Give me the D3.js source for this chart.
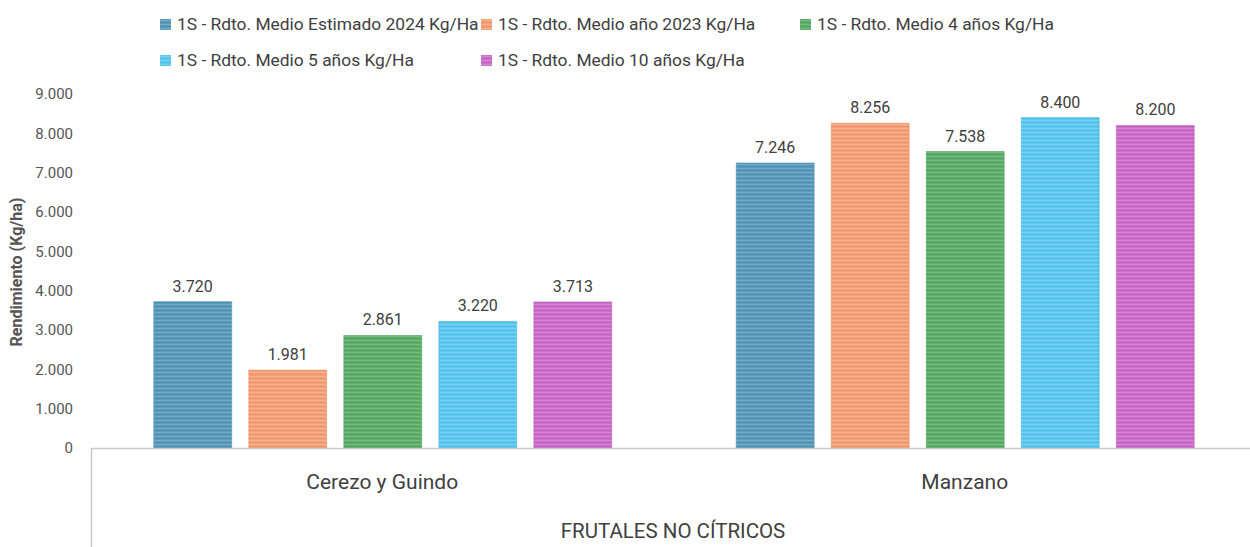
<!DOCTYPE html>
<html>
<head>
<meta charset="utf-8">
<script src="https://cdn.jsdelivr.net/npm/d3@7"></script>
<style>
  body { margin: 0; background: #fff; }
  text { font-family: Roboto, "Liberation Sans", sans-serif; }
</style>
</head>
<body>
<svg id="chart" width="1250" height="547"></svg>
<script>
var categories = ["Cerezo y Guindo", "Manzano"];
var seriesNames = [
  "1S - Rdto. Medio Estimado 2024 Kg/Ha",
  "1S - Rdto. Medio año 2023 Kg/Ha",
  "1S - Rdto. Medio 4 años Kg/Ha",
  "1S - Rdto. Medio 5 años Kg/Ha",
  "1S - Rdto. Medio 10 años Kg/Ha"
];
var est2024 = [3720, 7246];
var year2023 = [1981, 8256];
var avg4 = [2861, 7538];
var avg5 = [3220, 8400];
var avg10 = [3713, 8200];
var yTicks = [0, 1000, 2000, 3000, 4000, 5000, 6000, 7000, 8000, 9000];
var colors = ["#5b9bbb", "#f4a27a", "#5daf6a", "#5ec8ef", "#cd6fcd"];
var darks = ["#4a87a8", "#e58a5e", "#4c9c59", "#45b5e0", "#b95ab9"];

var seriesValues = [est2024, year2023, avg4, avg5, avg10];

var svg = d3.select("#chart");
var fmt = function(v) { return d3.format(",")(v).replace(/,/g, "."); };

// striped fills
var defs = svg.append("defs");
colors.forEach(function(c, i) {
  var p = defs.append("pattern")
    .attr("id", "stripe" + i)
    .attr("patternUnits", "userSpaceOnUse")
    .attr("width", 8).attr("height", 4);
  p.append("rect").attr("width", 8).attr("height", 4).attr("fill", c);
  p.append("rect").attr("y", 2).attr("width", 8).attr("height", 1).attr("fill", darks[i]).attr("opacity", 0.6);
  p.append("rect").attr("y", 0).attr("width", 8).attr("height", 1).attr("fill", "#fff").attr("opacity", 0.15);
});

var x0 = d3.scaleBand()
  .domain(categories)
  .range([91, 1256]);

var x1 = d3.scaleBand()
  .domain(d3.range(seriesNames.length))
  .range([0, 477])
  .paddingInner(0.18)
  .paddingOuter(0.1);

var y = d3.scaleLinear()
  .domain([0, 9000])
  .range([448, 94]);

// y tick labels
svg.append("g")
  .selectAll("text")
  .data(yTicks)
  .join("text")
    .attr("x", 73)
    .attr("y", d => y(d))
    .attr("dy", "0.35em")
    .attr("text-anchor", "end")
    .attr("fill", "#555")
    .style("font-size", "15px")
    .text(d => fmt(d));

svg.append("text")
  .attr("transform", "translate(22,272) rotate(-90)")
  .attr("text-anchor", "middle")
  .attr("fill", "#555")
  .style("font-size", "16px")
  .style("font-weight", "bold")
  .text("Rendimiento (Kg/ha)");

// bars
var groups = svg.append("g")
  .selectAll("g")
  .data(categories)
  .join("g")
    .attr("transform", d => "translate(" + (x0(d) + x0.bandwidth() / 2 - 238) + ",0)");

groups.selectAll("rect")
  .data((d, ci) => seriesValues.map((s, si) => ({ si: si, value: s[ci] })))
  .join("rect")
    .attr("x", d => x1(d.si))
    .attr("y", d => y(d.value))
    .attr("width", x1.bandwidth())
    .attr("height", d => y(0) - y(d.value))
    .attr("fill", d => "url(#stripe" + d.si + ")")
    .attr("stroke", d => darks[d.si])
    .attr("stroke-opacity", 0.5)
    .attr("stroke-width", 1);

groups.selectAll("text.lbl")
  .data((d, ci) => seriesValues.map((s, si) => ({ si: si, value: s[ci] })))
  .join("text")
    .attr("class", "lbl")
    .attr("x", d => x1(d.si) + x1.bandwidth() / 2)
    .attr("y", d => y(d.value) - 10)
    .attr("text-anchor", "middle")
    .attr("fill", "#404040")
    .style("font-size", "16px")
    .text(d => fmt(d.value));

// x axis lines
svg.append("line")
  .attr("x1", 91).attr("x2", 1256)
  .attr("y1", y(0) + 0.5).attr("y2", y(0) + 0.5)
  .attr("stroke", "#c8c8c8").attr("stroke-width", 1.5);
svg.append("line")
  .attr("x1", 91.5).attr("x2", 91.5)
  .attr("y1", y(0)).attr("y2", 547)
  .attr("stroke", "#c8c8c8").attr("stroke-width", 1.5);

svg.append("g")
  .selectAll("text")
  .data(categories)
  .join("text")
    .attr("x", d => x0(d) + x0.bandwidth() / 2)
    .attr("y", 489)
    .attr("text-anchor", "middle")
    .attr("fill", "#404040")
    .style("font-size", "21px")
    .text(d => d);

svg.append("text")
  .attr("x", 673)
  .attr("y", 538)
  .attr("text-anchor", "middle")
  .attr("fill", "#404040")
  .style("font-size", "20.5px")
  .text("FRUTALES NO CÍTRICOS");

// legend
var legendPos = [[160, 24], [481, 24], [800, 24], [160, 60], [481, 60]];
var legend = svg.append("g")
  .selectAll("g")
  .data(seriesNames)
  .join("g")
    .attr("transform", (d, i) => "translate(" + legendPos[i][0] + "," + legendPos[i][1] + ")");

legend.append("rect")
  .attr("x", 0).attr("y", -5)
  .attr("width", 11).attr("height", 11)
  .attr("fill", (d, i) => "url(#stripe" + i + ")");

legend.append("text")
  .attr("x", 17)
  .attr("y", 0)
  .attr("dy", "0.35em")
  .attr("fill", "#404040")
  .style("font-size", "17.4px")
  .text(d => d);
</script>
</body>
</html>
